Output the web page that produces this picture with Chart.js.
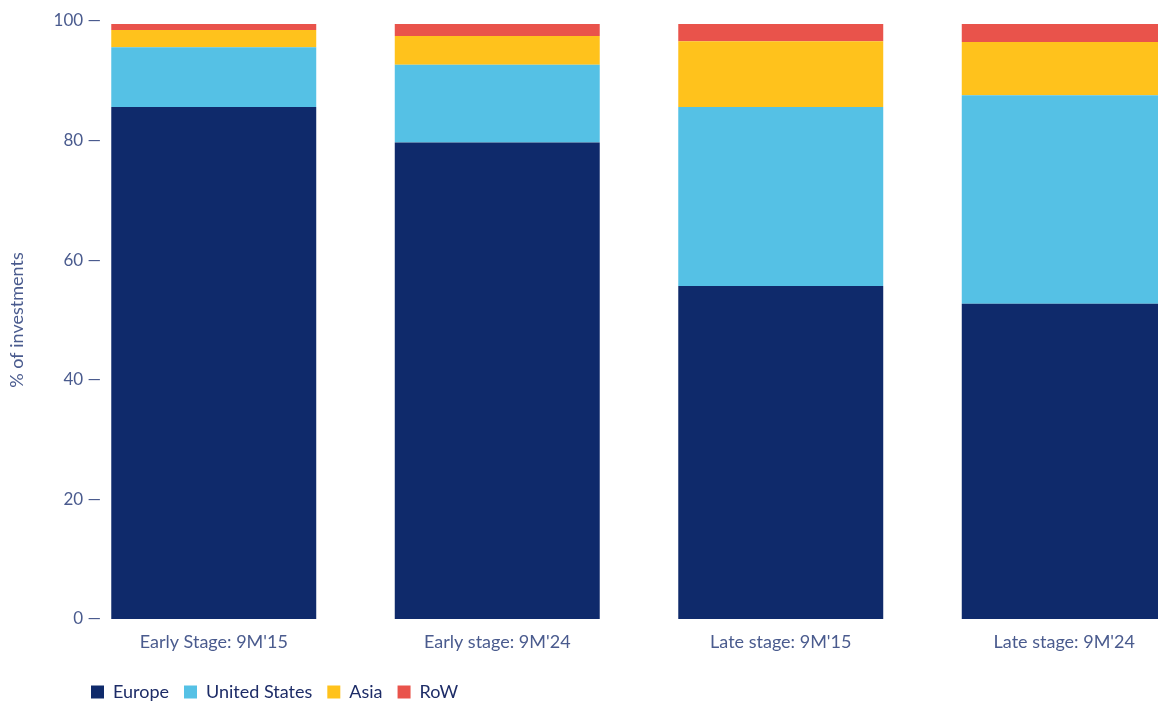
<!DOCTYPE html>
<html>
<head>
<meta charset="utf-8">
<script src="https://cdn.jsdelivr.net/npm/chart.js@4"></script>
<style>
  html, body { margin: 0; padding: 0; background: #fff; overflow: hidden; }
  #wrap { width: 1206px; height: 711px; }
</style>
</head>
<body>
<div id="wrap"><canvas id="chart"></canvas></div>
<script>
// Répartition des investissements par région (% du total)

const CATEGORIES = ["Early Stage: 9M'15", "Early stage: 9M'24", "Late stage: 9M'15", "Late stage: 9M'24"];
const EUROPE = [85.6, 79.7, 55.7, 52.7];
const US     = [10.0, 13.0, 29.9, 34.9];
const ASIA   = [2.9, 4.8, 11.0, 8.9];
const ROW    = [1.0, 2.0, 2.9, 3.0];
const Y_TICKS = [0, 20, 40, 60, 80, 100];

const COLORS = {
  europe: "#0F2A6B",
  us:     "#55C1E5",
  asia:   "#FFC21C",
  row:    "#E9534B",
};
const TEXT = "#4A5B8E";
const FONT = "Lato, 'Open Sans', sans-serif";
const TICK_SIZE = 17;

const tickLabel = v => v + " \u2014";

// largeur de l'étiquette la plus longue, pour caler les ticks à droite (x = 101)
const mctx = document.createElement("canvas").getContext("2d");
mctx.font = `${TICK_SIZE}px ${FONT}`;
const widest = Math.max(...Y_TICKS.map(v => mctx.measureText(tickLabel(v)).width));

// décale la légende pour l'aligner sous l'axe
const legendShift = {
  id: "legendShift",
  afterLayout(chart) {
    const lg = chart.legend;
    if (!lg) return;
    lg.left = 91 - lg.options.labels.padding;
    lg.right = lg.left + 1000;
  },
};

new Chart(document.getElementById("chart"), {
  type: "bar",
  data: {
    labels: CATEGORIES,
    datasets: [
      { label: "Europe",        data: EUROPE, backgroundColor: COLORS.europe },
      { label: "United States", data: US,     backgroundColor: COLORS.us },
      { label: "Asia",          data: ASIA,   backgroundColor: COLORS.asia },
      { label: "RoW",           data: ROW,    backgroundColor: COLORS.row },
    ],
  },
  options: {
    responsive: true,
    maintainAspectRatio: false,
    animation: false,
    layout: { padding: { top: 21, left: 0, right: 0, bottom: 0 } },
    datasets: { bar: { categoryPercentage: 1, barPercentage: 0.723, borderWidth: 0 } },
    scales: {
      x: {
        stacked: true,
        grid: { display: false, drawTicks: false },
        border: { display: false },
        ticks: { color: TEXT, font: { family: FONT, size: 18 }, padding: 12 },
        afterFit: s => { s.height = 49; },
      },
      y: {
        stacked: true,
        min: 0,
        max: 100,
        afterBuildTicks: s => { s.ticks = Y_TICKS.map(v => ({ value: v })); },
        grid: { display: false, drawTicks: false },
        border: { display: false },
        ticks: {
          mirror: true,
          crossAlign: "far",
          color: TEXT,
          font: { family: FONT, size: TICK_SIZE },
          padding: 29 - widest,
          callback: tickLabel,
        },
        title: {
          display: true,
          text: "% of investments",
          color: TEXT,
          font: { family: FONT, size: 18 },
          padding: { top: 6, bottom: 0 },
        },
        afterFit: s => { s.width = 72; },
      },
    },
    plugins: {
      legend: {
        position: "bottom",
        align: "start",
        labels: {
          boxWidth: 13,
          boxHeight: 13,
          padding: 15,
          color: "#1D2C67",
          font: { family: FONT, size: 18 },
        },
      },
      tooltip: { enabled: false },
    },
  },
  plugins: [legendShift],
});
</script>
</body>
</html>
